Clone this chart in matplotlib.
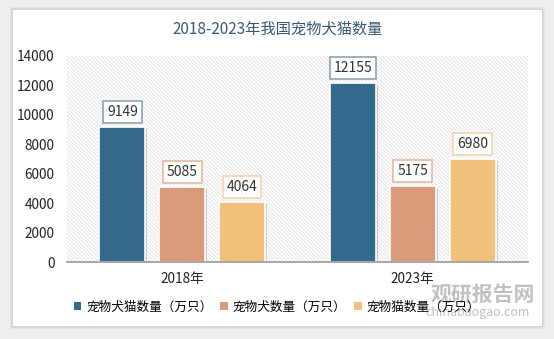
import numpy as np
import matplotlib.pyplot as plt
from matplotlib.patches import Rectangle
import matplotlib.patheffects as pe

plt.rcParams['font.family'] = ['Noto Sans CJK SC', 'DejaVu Sans']
plt.rcParams['hatch.linewidth'] = 0.5

# data
years = ["2018年", "2023年"]
series_names = ["宠物犬猫数量（万只）", "宠物犬数量（万只）", "宠物猫数量（万只）"]
dog_cat = [9149, 12155]
dog = [5085, 5175]
cat = [4064, 6980]
colors = ["#336a8c", "#d99b7c", "#f2c27c"]
box_edges = ["#8fa3b3", "#e3b9a4", "#f0d6ae"]

fig = plt.figure(figsize=(5.54, 3.39), dpi=100)
fig.patch.set_facecolor("#eeeeee")

# white card with soft shadow
for i in range(3):
    fig.patches.append(Rectangle((0.0235 - 0.002 * (i + 1), 0.038 - 0.003 * (i + 1)),
                                 0.955 + 0.004 * (i + 1), 0.932 + 0.006 * (i + 1),
                                 transform=fig.transFigure, facecolor="#000000",
                                 alpha=0.04, edgecolor="none", zorder=-3))
fig.patches.append(Rectangle((0.0235, 0.038), 0.955, 0.932, transform=fig.transFigure,
                             facecolor="white", edgecolor="none", zorder=-2))

ax = fig.add_axes([0.121, 0.227, 0.832, 0.608])
ax.set_facecolor("none")

# hatched plot background
ax.add_patch(Rectangle((0, 0), 1, 1, transform=ax.transAxes, facecolor="white",
                       edgecolor="#d9d9d9", hatch="\\" * 9, linewidth=0, zorder=0))

x = np.arange(len(years))
width = 0.2
offsets = [-0.26, 0, 0.26]
for vals, off, c, ec in zip([dog_cat, dog, cat], offsets, colors, box_edges):
    bars = ax.bar(x + off, vals, width, color=c, edgecolor="white", linewidth=1.2,
                  zorder=3, path_effects=[pe.SimplePatchShadow(offset=(1.5, -1.5), alpha=0.2),
                                          pe.Normal()])
    for b, v in zip(bars, vals):
        ax.annotate(f"{v}", (b.get_x() + b.get_width() / 2, v), xytext=(0, 15),
                    textcoords="offset pixels", ha="center", va="center",
                    fontsize=10, color="#333333", zorder=4,
                    bbox=dict(boxstyle="square,pad=0.28", facecolor="white",
                              edgecolor=ec, linewidth=1.2))

ax.set_xlim(-0.5, 1.5)
ax.set_ylim(0, 14000)
ax.set_yticks(np.arange(0, 14001, 2000))
ax.set_xticks(x)
ax.set_xticklabels(years)
ax.tick_params(axis="both", length=0, labelsize=9.8, colors="#222222")
ax.tick_params(axis="y", pad=9)
ax.tick_params(axis="x", pad=7)
for s in ["top", "right", "left"]:
    ax.spines[s].set_visible(False)
ax.spines["bottom"].set_color("#999999")
ax.spines["bottom"].set_linewidth(1.2)
ax.spines["bottom"].set_zorder(5)

fig.text(0.501, 0.915, "2018-2023年我国宠物犬猫数量", ha="center", va="center",
         fontsize=11, color="#3a5870")

# watermark
fig.text(0.871, 0.133, "观研报告网", ha="center", va="center", fontsize=15,
         color="#999999", alpha=0.6, fontweight="bold", zorder=1)
fig.text(0.862, 0.077, "chinabaogao.com", ha="center", va="center", fontsize=9,
         color="#999999", alpha=0.6, zorder=1)

handles = [Rectangle((0, 0), 1, 1, facecolor=c) for c in colors]
leg = fig.legend(handles, series_names, loc="center", bbox_to_anchor=(0.5, 0.094),
                 ncol=3, fontsize=9.1, frameon=True, fancybox=False, handlelength=0.6,
                 handleheight=0.6, handletextpad=0.4, columnspacing=0.6,
                 borderpad=0.35, framealpha=0.0)
leg.get_frame().set_edgecolor("#dddddd")
leg.get_frame().set_linewidth(0.8)
leg.set_zorder(2)

fig.savefig("out.png", dpi=100, facecolor=fig.get_facecolor())
